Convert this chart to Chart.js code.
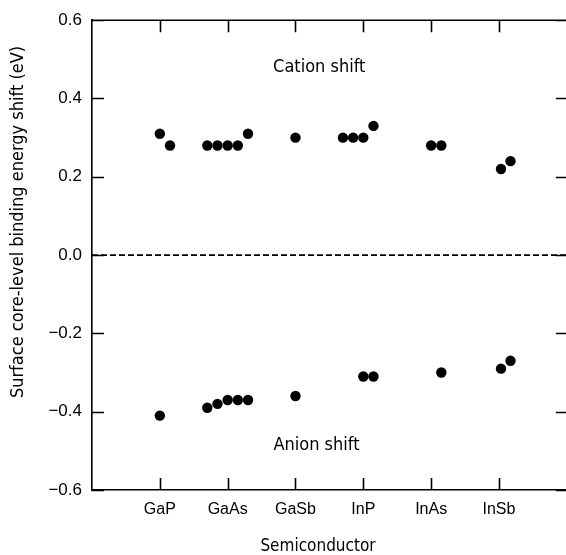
<!DOCTYPE html>
<html>
<head>
<meta charset="utf-8">
<script src="https://cdn.jsdelivr.net/npm/chart.js@4"></script>
<style>
  html, body { margin: 0; padding: 0; background: #fff; overflow: hidden; }
  #wrap { width: 572px; height: 555px; }
</style>
</head>
<body>
<div id="wrap"><canvas id="c" width="572" height="555"></canvas></div>
<script>
// ---- data ----
const categories = ['GaP', 'GaAs', 'GaSb', 'InP', 'InAs', 'InSb'];
const categoryPositions = [1, 2, 3, 4, 5, 6];

const cationX = [1.0, 1.15, 1.70, 1.85, 2.0, 2.15, 2.30, 3.0, 3.70, 3.85, 4.0, 4.15, 5.0, 5.15, 6.03, 6.17];
const cationY = [0.31, 0.28, 0.28, 0.28, 0.28, 0.28, 0.31, 0.30, 0.30, 0.30, 0.30, 0.33, 0.28, 0.28, 0.22, 0.24];

const anionX = [1.0, 1.70, 1.85, 2.0, 2.15, 2.30, 3.0, 4.0, 4.15, 5.15, 6.03, 6.17];
const anionY = [-0.41, -0.39, -0.38, -0.37, -0.37, -0.37, -0.36, -0.31, -0.31, -0.30, -0.29, -0.27];

const zeroLineX = [0, 7];
const zeroLineY = [0, 0];

const yTicks = [-0.6, -0.4, -0.2, 0.0, 0.2, 0.4, 0.6];

const yTitle = 'Surface core-level binding energy shift (eV)';
const xTitle = 'Semiconductor';
const annotations = [
  { text: 'Cation shift', x: 3.35, y: 0.48 },
  { text: 'Anion shift', x: 3.31, y: -0.487 }
];

// ---- build ----
const toPts = (xs, ys) => xs.map((x, i) => ({ x: x, y: ys[i] }));
const titleFont = '"DejaVu Sans Condensed", "DejaVu Sans", sans-serif';

const framePlugin = {
  id: 'frame',
  afterDraw(chart) {
    const ctx = chart.ctx;
    const a = chart.chartArea;
    const xs = chart.scales.x, ys = chart.scales.y;
    ctx.save();
    ctx.strokeStyle = '#000';
    ctx.lineWidth = 1.6;
    ctx.beginPath();
    ctx.moveTo(a.left - 0.8, a.top);
    ctx.lineTo(a.right, a.top);
    // x ticks: inward at bottom and top
    categoryPositions.forEach(v => {
      const px = Math.round(xs.getPixelForValue(v)) + 0.5;
      ctx.moveTo(px, a.bottom); ctx.lineTo(px, a.bottom - 12);
      ctx.moveTo(px, a.top); ctx.lineTo(px, a.top + 12);
    });
    // y ticks: inward at left and right
    yTicks.forEach(v => {
      const py = Math.round(ys.getPixelForValue(v)) + 0.5;
      ctx.moveTo(a.left, py); ctx.lineTo(a.left + 12, py);
      ctx.moveTo(a.right, py); ctx.lineTo(a.right - 11, py);
    });
    ctx.stroke();

    ctx.fillStyle = '#000';
    ctx.textAlign = 'center';
    ctx.textBaseline = 'middle';
    ctx.font = '18px ' + titleFont;
    annotations.forEach(t => {
      ctx.fillText(t.text, xs.getPixelForValue(t.x), ys.getPixelForValue(t.y));
    });

    // axis titles
    ctx.font = '17px ' + titleFont;
    ctx.fillText(xTitle, 318, 547);
    ctx.save();
    ctx.translate(18, 222);
    ctx.rotate(-Math.PI / 2);
    ctx.font = '18px ' + titleFont;
    ctx.fillText(yTitle, 0, 0);
    ctx.restore();
    ctx.restore();
  }
};

new Chart(document.getElementById('c'), {
  type: 'scatter',
  data: {
    datasets: [
      {
        label: 'Cation shift',
        data: toPts(cationX, cationY),
        backgroundColor: '#000', borderColor: '#000',
        pointRadius: 5.2, pointHoverRadius: 5.2, borderWidth: 0
      },
      {
        label: 'Anion shift',
        data: toPts(anionX, anionY),
        backgroundColor: '#000', borderColor: '#000',
        pointRadius: 5.2, pointHoverRadius: 5.2, borderWidth: 0
      },
      {
        type: 'line',
        label: 'zero',
        data: toPts(zeroLineX, zeroLineY),
        borderColor: '#000', borderWidth: 1.6, borderDash: [6, 3],
        pointRadius: 0, fill: false
      }
    ]
  },
  plugins: [framePlugin],
  options: {
    responsive: false,
    animation: false,
    events: [],
    layout: { padding: { top: 12, right: 4, left: 0, bottom: 0 } },
    plugins: { legend: { display: false }, tooltip: { enabled: false } },
    scales: {
      x: {
        type: 'linear', min: 0, max: 7,
        afterBuildTicks: s => { s.ticks = categoryPositions.map(v => ({ value: v })); },
        afterFit: s => { s.height = 65; },
        ticks: {
          autoSkip: false, maxRotation: 0, padding: 10, color: '#000',
          font: { family: '"Liberation Sans", Arial, sans-serif', size: 16 },
          callback: v => { const i = categoryPositions.indexOf(v); return i >= 0 ? categories[i] : ''; }
        },
        grid: { display: true, drawOnChartArea: false, drawTicks: false },
        border: { display: true, color: '#000', width: 1.6 }
      },
      y: {
        type: 'linear', min: -0.6, max: 0.6,
        afterBuildTicks: s => { s.ticks = yTicks.map(v => ({ value: v })); },
        afterFit: s => { s.width = 92; },
        ticks: {
          padding: 10, color: '#000',
          font: { family: '"Liberation Sans", Arial, sans-serif', size: 17 },
          callback: v => (v < 0 ? '\u2212' : '') + Math.abs(v).toFixed(1)
        },
        grid: { display: true, drawOnChartArea: false, drawTicks: false },
        border: { display: true, color: '#000', width: 1.6 }
      }
    }
  }
});
</script>
</body>
</html>
